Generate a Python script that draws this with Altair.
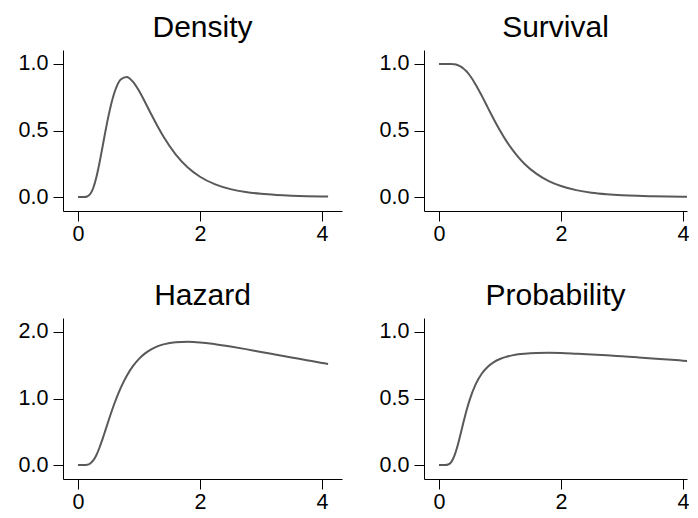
import altair as alt
import pandas as pd

# values
x_vals = [0.0, 0.05, 0.1, 0.15, 0.2, 0.25, 0.3, 0.35, 0.4, 0.45, 0.5, 0.6, 0.7, 0.8,
          0.9, 1.0, 1.1, 1.2, 1.3, 1.4, 1.6, 1.8, 2.0, 2.25, 2.5, 2.75, 3.0, 3.25,
          3.5, 3.75, 4.0, 4.1]
density = [0.0, 0.0, 0.0002, 0.004, 0.0225, 0.068, 0.1465, 0.252, 0.372, 0.495,
           0.610, 0.789, 0.884, 0.903, 0.867, 0.798, 0.712, 0.622, 0.535, 0.4545,
           0.321, 0.222, 0.1526, 0.095, 0.0595, 0.0375, 0.0238, 0.0153, 0.0099,
           0.0065, 0.0043, 0.0036]
survival = [1.0, 1.0, 1.0, 1.0, 0.9994, 0.9972, 0.992, 0.982, 0.9666, 0.945, 0.917,
            0.8465, 0.762, 0.672, 0.583, 0.5, 0.424, 0.358, 0.300, 0.2505, 0.174,
            0.120, 0.083, 0.052, 0.033, 0.0215, 0.014, 0.0092, 0.0061, 0.0041,
            0.0028, 0.0024]
hazard = [0.0, 0.0, 0.0002, 0.004, 0.0225, 0.0686, 0.1477, 0.256, 0.385, 0.524,
          0.666, 0.932, 1.159, 1.343, 1.486, 1.596, 1.678, 1.739, 1.783, 1.814,
          1.847, 1.852, 1.843, 1.816, 1.781, 1.742, 1.699, 1.658, 1.617, 1.576,
          1.535, 1.519]
probability = [0.0, 0.0, 0.0002, 0.004, 0.0222, 0.0663, 0.1373, 0.226, 0.3196,
               0.408, 0.486, 0.606, 0.686, 0.739, 0.774, 0.797, 0.813, 0.824,
               0.832, 0.837, 0.842, 0.843, 0.842, 0.837, 0.8315, 0.8247, 0.817,
               0.8095, 0.8015, 0.793, 0.7845, 0.781]

titles = ["Density", "Survival", "Hazard", "Probability"]
series = [density, survival, hazard, probability]
y_ticks = [[0, 0.5, 1.0], [0, 0.5, 1.0], [0, 1.0, 2.0], [0, 0.5, 1.0]]
y_domains = [[-0.105, 1.105], [-0.105, 1.105], [-0.21, 2.21], [-0.105, 1.105]]
x_ticks = [0, 2, 4]
# left column: full panel; right column: panel cut at the page edge
x_domains = [[-0.246, 4.328], [-0.246, 4.066]]
widths = [279, 263]

FONT = "Liberation Sans"


def panel(i):
    col = i % 2
    df = pd.DataFrame({"x": x_vals, "y": series[i]})
    axis_style = dict(title=None, grid=False, tickSize=10,
                      domainColor="black", tickColor="black", labelColor="black",
                      labelFont=FONT, labelFontSize=21.5, domainWidth=1, tickWidth=1)
    return (
        alt.Chart(
            df,
            title=alt.Title(
                titles[i], fontSize=30, font=FONT, fontWeight="normal",
                color="black", anchor="middle", frame="group",
                baseline="alphabetic", offset=-17,
            ),
        )
        .mark_line(color="#595959", strokeWidth=2, interpolate="monotone",
                   clip=True)
        .encode(
            x=alt.X(
                "x:Q",
                scale=alt.Scale(domain=x_domains[col], nice=False, zero=False),
                axis=alt.Axis(values=x_ticks, format="d", labelPadding=2,
                              **axis_style),
            ),
            y=alt.Y(
                "y:Q",
                scale=alt.Scale(domain=y_domains[i], nice=False, zero=False),
                axis=alt.Axis(values=y_ticks[i], format=".1f", labelPadding=5,
                              **axis_style),
            ),
        )
        .properties(width=widths[col], height=161)
    )


row1 = alt.hconcat(panel(0), panel(1), spacing=37)
row2 = alt.hconcat(panel(2), panel(3), spacing=37)
chart = (
    alt.vconcat(row1, row2, spacing=36)
    .properties(padding={"left": 10, "top": 5, "right": 0, "bottom": 0},
                background="white")
    .configure_view(stroke=None)
)

chart.save("out.html", embed_options={"renderer": "svg", "actions": False})
